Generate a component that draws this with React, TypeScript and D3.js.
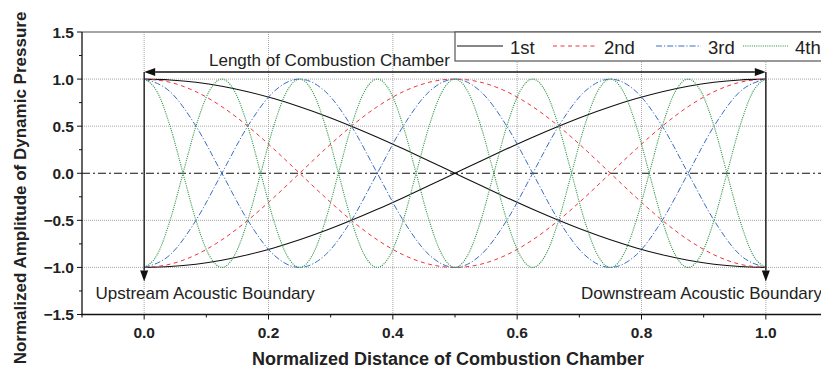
import React from "react";
import * as d3 from "d3";

const mode1 = [1, 0.991, 0.966, 0.924, 0.866, 0.793, 0.707, 0.609, 0.5, 0.383, 0.259, 0.131, 0, -0.131, -0.259, -0.383, -0.5, -0.609, -0.707, -0.793, -0.866, -0.924, -0.966, -0.991, -1];
const mode2 = [1, 0.966, 0.866, 0.707, 0.5, 0.259, 0, -0.259, -0.5, -0.707, -0.866, -0.966, -1, -0.966, -0.866, -0.707, -0.5, -0.259, 0, 0.259, 0.5, 0.707, 0.866, 0.966, 1];
const mode3 = [1, 0.866, 0.5, 0, -0.5, -0.866, -1, -0.866, -0.5, 0, 0.5, 0.866, 1, 0.866, 0.5, 0, -0.5, -0.866, -1, -0.866, -0.5, 0, 0.5, 0.866, 1];
const mode4 = [
  1, 0.866, 0.5, 0, -0.5, -0.866, -1, -0.866, -0.5, 0, 0.5, 0.866,
  1, 0.866, 0.5, 0, -0.5, -0.866, -1, -0.866, -0.5, 0, 0.5, 0.866,
  1, 0.866, 0.5, 0, -0.5, -0.866, -1, -0.866, -0.5, 0, 0.5, 0.866,
  1, 0.866, 0.5, 0, -0.5, -0.866, -1, -0.866, -0.5, 0, 0.5, 0.866,
  1,
];
const seriesNames = ["1st", "2nd", "3rd", "4th"];
const xTicks = [0, 0.2, 0.4, 0.6, 0.8, 1.0];
const xMinorTicks = [-0.1, 0.1, 0.3, 0.5, 0.7, 0.9, 1.1];
const yTicks = [-1.5, -1.0, -0.5, 0, 0.5, 1.0, 1.5];
const yMinorTicks = [-1.25, -0.75, -0.25, 0.25, 0.75, 1.25];
const yGrid = [-1.0, -0.5, 0.5, 1.0];
const arrowLevel = 1.075;
const boundaryArrowEnd = -1.15;

const W = 821;
const H = 370;
const FONT = "'Liberation Sans', Arial, Helvetica, sans-serif";

const styles = [
  { color: "#111111", dash: "none", width: 1.1 },
  { color: "#f0333c", dash: "4,3.5", width: 1 },
  { color: "#3a6cc6", dash: "6,2,1.2,2", width: 1 },
  { color: "#319645", dash: "1.1,1.1", width: 1.1 },
];

export default function App() {
  const x = d3.scaleLinear().domain([-0.1, 1.1]).range([82, 828]);
  const y = d3.scaleLinear().domain([-1.5, 1.5]).range([314.5, 32]);
  const modes = [mode1, mode2, mode3, mode4];

  const line = d3
    .line<[number, number]>()
    .x((d) => x(d[0]))
    .y((d) => y(d[1]))
    .curve(d3.curveMonotoneX);

  const toPts = (m: number[], sign: number) =>
    m.map((v, k) => [k / (m.length - 1), sign * v] as [number, number]);

  const left = x(-0.1);
  const right = W;
  const top = y(1.5);
  const bottom = y(-1.5);
  const fmt = d3.format(".1f");

  const x0 = x(0);
  const x1 = x(1);
  const ya = y(arrowLevel);
  const yb = y(boundaryArrowEnd);
  const ah = 11; // arrowhead length
  const aw = 4; // arrowhead half width

  const legendItems = [
    { x1: 457, x2: 503, tx: 510 },
    { x1: 553, x2: 597, tx: 604 },
    { x1: 656, x2: 701, tx: 708 },
    { x1: 743, x2: 788, tx: 795 },
  ];

  return (
    <svg
      width={W}
      height={H}
      style={{ position: "absolute", left: 0, top: 0, background: "#fff" }}
      fontFamily={FONT}
    >
      <defs>
        <clipPath id="plot">
          <rect x={left} y={top} width={right - left} height={bottom - top} />
        </clipPath>
      </defs>
      {/* grid */}
      <g stroke="#a8a8a8" strokeWidth={1} strokeDasharray="1,1">
        {xTicks.map((t) => (
          <line key={"gx" + t} x1={x(t)} x2={x(t)} y1={top} y2={bottom} />
        ))}
        {yGrid.map((t) => (
          <line key={"gy" + t} x1={left} x2={right} y1={y(t)} y2={y(t)} />
        ))}
      </g>
      {/* zero reference line */}
      <line
        x1={left}
        x2={right}
        y1={y(0)}
        y2={y(0)}
        stroke="#111"
        strokeWidth={1.1}
        strokeDasharray="8,3,2,3"
      />
      {/* curves */}
      <g clipPath="url(#plot)" fill="none">
        {modes.map((m, i) => (
          <g key={"m" + i} stroke={styles[i].color} strokeWidth={styles[i].width} strokeDasharray={styles[i].dash}>
            <path d={line(toPts(m, 1)) || ""} />
            <path d={line(toPts(m, -1)) || ""} />
          </g>
        ))}
      </g>
      {/* arrows */}
      <g stroke="#111" strokeWidth={1.3} fill="#111">
        <line x1={x0 + ah} x2={x1 - ah} y1={ya} y2={ya} />
        <path d={`M${x0},${ya} L${x0 + ah},${ya - aw} L${x0 + ah},${ya + aw} Z`} stroke="none" />
        <path d={`M${x1},${ya} L${x1 - ah},${ya - aw} L${x1 - ah},${ya + aw} Z`} stroke="none" />
        <line x1={x0} x2={x0} y1={ya} y2={yb - ah} />
        <path d={`M${x0},${yb} L${x0 - aw},${yb - ah} L${x0 + aw},${yb - ah} Z`} stroke="none" />
        <line x1={x1} x2={x1} y1={ya} y2={yb - ah} stroke="#333" strokeWidth={1.6} />
        <path d={`M${x1},${yb} L${x1 - aw},${yb - ah} L${x1 + aw},${yb - ah} Z`} stroke="none" />
      </g>
      {/* annotations */}
      <g fontSize={17} fill="#222">
        <text x={209} y={66}>Length of Combustion Chamber</text>
        <text x={95.5} y={299}>Upstream Acoustic Boundary</text>
        <text x={581} y={299}>Downstream Acoustic Boundary</text>
      </g>
      {/* frame */}
      <line x1={left} x2={right} y1={top} y2={top} stroke="#888" strokeWidth={1.5} />
      <line x1={left} x2={left} y1={top} y2={bottom} stroke="#111" strokeWidth={1.3} />
      <line x1={left - 1} x2={right} y1={bottom} y2={bottom} stroke="#111" strokeWidth={1.3} />
      {/* ticks */}
      <g stroke="#111" strokeWidth={1}>
        {yTicks.map((t) => (
          <line key={"yt" + t} x1={left - 5} x2={left} y1={y(t)} y2={y(t)} />
        ))}
        {yMinorTicks.map((t) => (
          <line key={"ym" + t} x1={left - 3} x2={left} y1={y(t)} y2={y(t)} />
        ))}
        {xTicks.map((t) => (
          <line key={"xt" + t} x1={x(t)} x2={x(t)} y1={bottom} y2={bottom + 5} />
        ))}
        {xMinorTicks.map((t) => (
          <line key={"xm" + t} x1={x(t)} x2={x(t)} y1={bottom} y2={bottom + 3} />
        ))}
      </g>
      <g fontSize={15.5} fontWeight="bold" fill="#222">
        {yTicks.map((t) => (
          <text key={"yl" + t} x={74} y={y(t)} dy="0.36em" textAnchor="end">
            {fmt(t)}
          </text>
        ))}
        {xTicks.map((t) => (
          <text key={"xl" + t} x={x(t)} y={338} textAnchor="middle">
            {fmt(t)}
          </text>
        ))}
      </g>
      {/* axis titles */}
      <text x={448} y={365} textAnchor="middle" fontSize={18} fontWeight="bold" fill="#222">
        Normalized Distance of Combustion Chamber
      </text>
      <text
        transform={`translate(26,188) rotate(-90)`}
        textAnchor="middle"
        fontSize={17}
        fontWeight="bold"
        fill="#222"
      >
        Normalized Amplitude of Dynamic Pressure
      </text>
      {/* legend */}
      <rect x={455} y={top} width={380} height={29} fill="#fff" stroke="#555" strokeWidth={1.2} />
      {legendItems.map((it, i) => (
        <g key={"lg" + i}>
          <line
            x1={it.x1}
            x2={it.x2}
            y1={46}
            y2={46}
            stroke={styles[i].color}
            strokeWidth={styles[i].width}
            strokeDasharray={styles[i].dash}
          />
          <text x={it.tx} y={54} fontSize={18.5} fill="#222">
            {seriesNames[i]}
          </text>
        </g>
      ))}
    </svg>
  );
}
